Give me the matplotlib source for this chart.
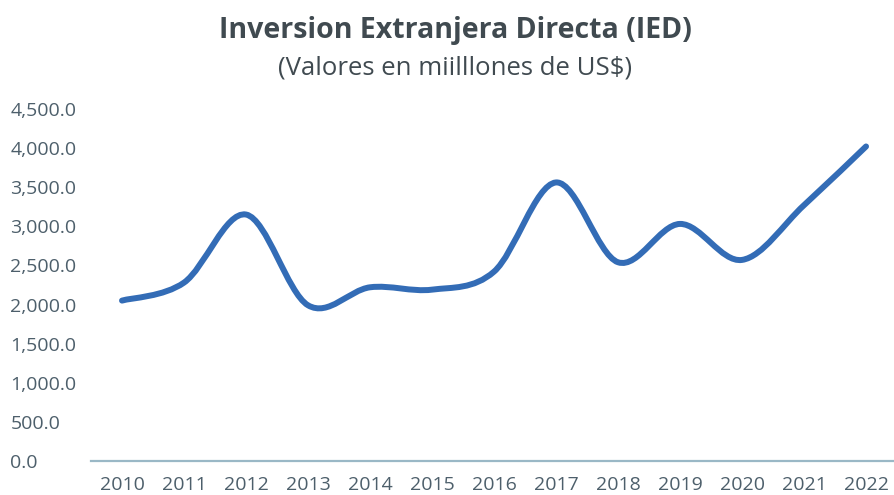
import matplotlib
matplotlib.use("Agg")
import matplotlib.pyplot as plt
from matplotlib.path import Path
from matplotlib.patches import PathPatch

years = ["2010", "2011", "2012", "2013", "2014", "2015", "2016",
         "2017", "2018", "2019", "2020", "2021", "2022"]
ied = [2050, 2280, 3150, 1990, 2220, 2190, 2420,
       3560, 2540, 3030, 2570, 3270, 4020]
yticks = [0, 500, 1000, 1500, 2000, 2500, 3000, 3500, 4000, 4500]

LINE_C = "#336cb6"
TEXT_C = "#4d5f6b"
AXIS_C = "#9ab8c6"

plt.rcParams["font.family"] = ["Open Sans", "DejaVu Sans"]

fig = plt.figure(figsize=(8.94, 4.95), dpi=100)
ax = fig.add_axes([0.1018, 0.0687, 0.9016, 0.7113])


def smooth_path(xs, ys):
    # Excel-style smoothed line: cubic Bezier segments through the points
    n = len(xs)
    verts = [(xs[0], ys[0])]
    codes = [Path.MOVETO]
    for i in range(n - 1):
        x0, y0 = xs[max(i - 1, 0)], ys[max(i - 1, 0)]
        x1, y1 = xs[i], ys[i]
        x2, y2 = xs[i + 1], ys[i + 1]
        x3, y3 = xs[min(i + 2, n - 1)], ys[min(i + 2, n - 1)]
        c1 = (x1 + (x2 - x0) / 6, y1 + (y2 - y0) / 6)
        c2 = (x2 - (x3 - x1) / 6, y2 - (y3 - y1) / 6)
        verts += [c1, c2, (x2, y2)]
        codes += [Path.CURVE4] * 3
    return Path(verts, codes)


xs = list(range(len(years)))
ax.add_patch(PathPatch(smooth_path(xs, ied), fill=False, edgecolor=LINE_C,
                       linewidth=4.3, capstyle="round", joinstyle="round"))

ax.set_xlim(-0.5, len(years) - 0.5)
ax.set_ylim(0, 4500)
ax.set_xticks(xs)
ax.set_xticklabels(years)
ax.set_yticks(yticks)
ax.set_yticklabels([f"{v:,.1f}" for v in yticks])

for s in ("top", "right", "left"):
    ax.spines[s].set_visible(False)
ax.spines["bottom"].set_color(AXIS_C)
ax.spines["bottom"].set_linewidth(1.6)
ax.tick_params(axis="both", length=0, colors=TEXT_C, labelsize=14)
ax.tick_params(axis="x", pad=11)
ax.tick_params(axis="y", pad=58)
for lab in ax.get_yticklabels():
    lab.set_horizontalalignment("left")

fig.text(0.509, 0.939, "Inversion Extranjera Directa (IED)", ha="center",
         va="center", fontsize=20.5, fontweight="bold", color="#404a50")
fig.text(0.509, 0.863, "(Valores en miilllones de US$)", ha="center",
         va="center", fontsize=18.5, color="#404a50")

fig.savefig("out.png", dpi=100)
